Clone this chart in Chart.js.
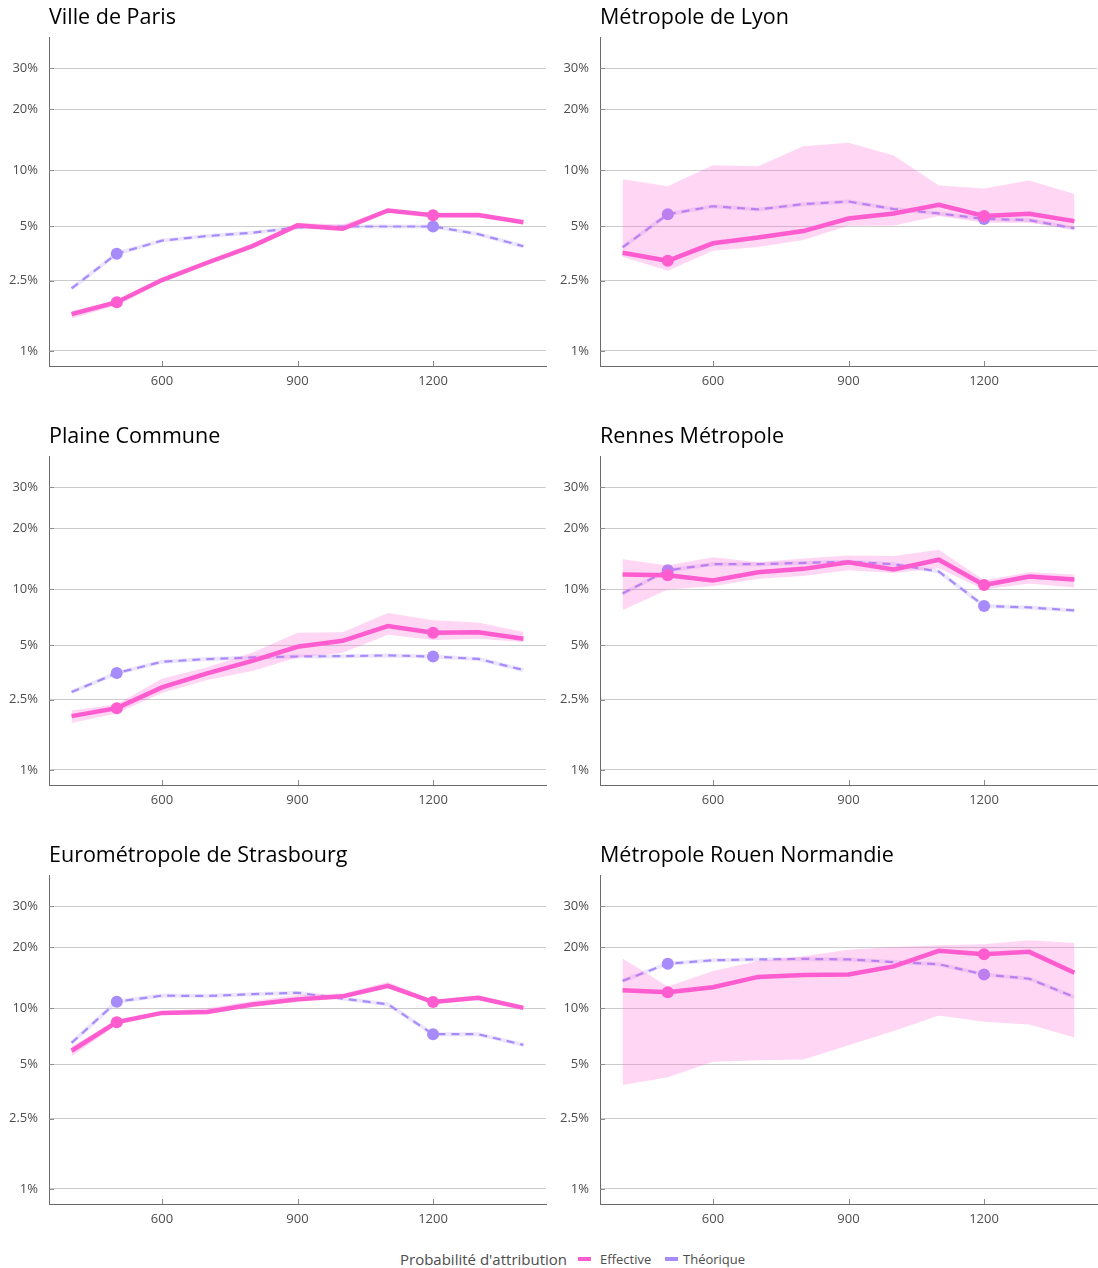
<!DOCTYPE html>
<html lang="fr">
<head>
<meta charset="utf-8">
<title>Probabilité d'attribution par territoire</title>
<script src="https://cdn.jsdelivr.net/npm/chart.js@4.4.1/dist/chart.umd.min.js"></script>
<style>
  html, body { margin: 0; padding: 0; background: #fff; }
  body { width: 1098px; height: 1268px; position: relative; overflow: hidden; font-family: 'Open Sans', sans-serif; }
  .panel { position: absolute; height: 400px; }
  .panel canvas { display: block; }
  .lg { position: absolute; top: 1250px; height: 18px; line-height: 18px; color: #4d4d4d; white-space: nowrap; }
  .lg-title { font-size: 15px; }
  .lg-item { font-size: 13px; }
  .lg-key { position: absolute; top: 1257px; width: 13px; height: 4px; }
</style>
</head>
<body>
<div id="panels"></div>

<div class="lg lg-title" style="left:400px">Probabilité d'attribution</div>
<div class="lg-key" style="left:578px;background:#FF5CCF"></div>
<div class="lg lg-item" style="left:600px">Effective</div>
<div class="lg-key" style="left:665px;background:#A78BFA"></div>
<div class="lg lg-item" style="left:683px">Théorique</div>

<script>
// Revenue thresholds on the horizontal axis
const seuils = [400, 500, 600, 700, 800, 900, 1000, 1100, 1200, 1300, 1400];
const xTicks = [600, 900, 1200];
const yTicks = [0.01, 0.025, 0.05, 0.10, 0.20, 0.30];
const yTickLabels = ['1%', '2.5%', '5%', '10%', '20%', '30%'];
// Thresholds that carry a marker
const marqueurs = [500, 1200];

const territoires = [
  'Ville de Paris', 'Métropole de Lyon', 'Plaine Commune',
  'Rennes Métropole', 'Eurométropole de Strasbourg', 'Métropole Rouen Normandie'
];

// Ville de Paris
const parisEffective = [0.0162, 0.0189, 0.0252, 0.0315, 0.0390, 0.0507, 0.0486, 0.0611, 0.0576, 0.0578, 0.0528];
const parisBasse     = [0.0153, 0.0181, 0.0245, 0.0308, 0.0383, 0.0497, 0.0478, 0.0600, 0.0566, 0.0568, 0.0519];
const parisHaute     = [0.0168, 0.0194, 0.0258, 0.0322, 0.0399, 0.0523, 0.0512, 0.0622, 0.0586, 0.0588, 0.0537];
const parisTheorique = [0.0226, 0.0354, 0.0418, 0.0443, 0.0462, 0.0494, 0.0500, 0.0500, 0.0500, 0.0454, 0.0389];

// Métropole de Lyon
const lyonEffective = [0.0358, 0.0323, 0.0404, 0.0435, 0.0472, 0.0553, 0.0589, 0.0655, 0.0570, 0.0586, 0.0535];
const lyonBasse     = [0.0340, 0.0284, 0.0367, 0.0386, 0.0421, 0.0504, 0.0507, 0.0570, 0.0524, 0.0524, 0.0482];
const lyonHaute     = [0.0897, 0.0824, 0.1060, 0.1048, 0.1324, 0.1380, 0.1190, 0.0831, 0.0802, 0.0883, 0.0750];
const lyonTheorique = [0.0384, 0.0583, 0.0644, 0.0619, 0.0661, 0.0683, 0.0622, 0.0589, 0.0550, 0.0542, 0.0488];

// Plaine Commune
const plaineEffective = [0.0202, 0.0224, 0.0293, 0.0351, 0.0411, 0.0492, 0.0530, 0.0637, 0.0586, 0.0590, 0.0544];
const plaineBasse     = [0.0185, 0.0210, 0.0273, 0.0322, 0.0362, 0.0430, 0.0456, 0.0572, 0.0535, 0.0544, 0.0522];
const plaineHaute     = [0.0217, 0.0236, 0.0327, 0.0379, 0.0456, 0.0586, 0.0590, 0.0750, 0.0685, 0.0667, 0.0592];
const plaineTheorique = [0.0276, 0.0352, 0.0407, 0.0421, 0.0430, 0.0435, 0.0437, 0.0441, 0.0435, 0.0422, 0.0366];

// Rennes Métropole
const rennesEffective = [0.119, 0.118, 0.111, 0.122, 0.127, 0.137, 0.126, 0.141, 0.105, 0.116, 0.112];
const rennesBasse     = [0.0776, 0.0996, 0.1036, 0.113, 0.117, 0.125, 0.121, 0.128, 0.0996, 0.107, 0.102];
const rennesHaute     = [0.142, 0.132, 0.145, 0.137, 0.143, 0.148, 0.147, 0.158, 0.111, 0.122, 0.119];
const rennesTheorique = [0.0949, 0.125, 0.134, 0.134, 0.136, 0.138, 0.134, 0.123, 0.0817, 0.0802, 0.0773];

// Eurométropole de Strasbourg
const strasEffective = [0.0594, 0.0845, 0.0945, 0.0956, 0.1044, 0.111, 0.115, 0.130, 0.1076, 0.113, 0.1003];
const strasBasse     = [0.0555, 0.0815, 0.0925, 0.0935, 0.1010, 0.1075, 0.1120, 0.1260, 0.1050, 0.1100, 0.0980];
const strasHaute     = [0.0625, 0.0870, 0.0965, 0.1000, 0.1090, 0.1170, 0.1185, 0.1360, 0.1100, 0.1160, 0.1025];
const strasTheorique = [0.0655, 0.108, 0.116, 0.1155, 0.118, 0.120, 0.112, 0.1048, 0.0729, 0.0729, 0.0639];

// Métropole Rouen Normandie
const rouenEffective = [0.1235, 0.1207, 0.128, 0.144, 0.147, 0.148, 0.162, 0.192, 0.185, 0.190, 0.151];
const rouenBasse     = [0.0385, 0.0425, 0.0517, 0.0528, 0.0532, 0.0637, 0.0759, 0.0915, 0.0848, 0.0821, 0.0700];
const rouenHaute     = [0.177, 0.129, 0.154, 0.172, 0.181, 0.1945, 0.200, 0.2036, 0.206, 0.2147, 0.2086];
const rouenTheorique = [0.1376, 0.167, 0.1734, 0.175, 0.176, 0.175, 0.170, 0.166, 0.148, 0.141, 0.114];

const effectives = [parisEffective, lyonEffective, plaineEffective, rennesEffective, strasEffective, rouenEffective];
const basses     = [parisBasse, lyonBasse, plaineBasse, rennesBasse, strasBasse, rouenBasse];
const hautes     = [parisHaute, lyonHaute, plaineHaute, rennesHaute, strasHaute, rouenHaute];
const theoriques = [parisTheorique, lyonTheorique, plaineTheorique, rennesTheorique, strasTheorique, rouenTheorique];

const ROSE = '#FF5CCF';
const ROSE_BANDE = 'rgba(255, 92, 207, 0.25)';
const VIOLET = '#A78BFA';
const VIOLET_HALO = 'rgba(167, 139, 250, 0.22)';
const GRIS_TEXTE = '#4d4d4d';
const FONT = "'Open Sans', sans-serif";

// Logit-transformed probability axis
const logit = p => Math.log(p / (1 - p));
const expit = l => 1 / (1 + Math.exp(-l));

class LogitScale extends Chart.LinearScale {
  static id = 'logit';
  static defaults = {};
  buildTicks() {
    return yTicks.map(v => ({ value: v }));
  }
  configure() {
    super.configure();
    this._startValue = logit(this.min);
    this._endValue = logit(this.max);
    this._valueRange = this._endValue - this._startValue;
  }
  getPixelForValue(value) {
    return this.getPixelForDecimal((logit(value) - this._startValue) / this._valueRange);
  }
  getValueForPixel(pixel) {
    return expit(this._startValue + this.getDecimalForPixel(pixel) * this._valueRange);
  }
}
Chart.register(LogitScale);

// Panel title and inward tick marks
const panelDecor = {
  id: 'panelDecor',
  afterDraw(chart, args, opts) {
    const { ctx, chartArea: a } = chart;
    ctx.save();
    ctx.fillStyle = '#000';
    ctx.font = '21.5px ' + FONT;
    ctx.textBaseline = 'middle';
    ctx.textAlign = 'left';
    ctx.fillText(opts.title, a.left, 18);

    ctx.strokeStyle = '#8c8c8c';
    ctx.lineWidth = 1;
    const ys = chart.scales.y, xs = chart.scales.x;
    ys.ticks.forEach(t => {
      const py = Math.round(ys.getPixelForValue(t.value)) + 0.5;
      ctx.beginPath(); ctx.moveTo(a.left, py); ctx.lineTo(a.left + 5, py); ctx.stroke();
    });
    xs.ticks.forEach(t => {
      const px = Math.round(xs.getPixelForValue(t.value)) + 0.5;
      ctx.beginPath(); ctx.moveTo(px, a.bottom); ctx.lineTo(px, a.bottom - 5); ctx.stroke();
    });
    ctx.restore();
  }
};

const points = arr => arr.map((v, i) => ({ x: seuils[i], y: v }));
const markerRadius = ctx => (ctx.raw && marqueurs.includes(ctx.raw.x)) ? 6 : 0;

const panels = document.getElementById('panels');

territoires.forEach((nom, i) => {
  const col = i % 2, row = Math.floor(i / 2);
  const width = col === 0 ? 549 : 547;
  const div = document.createElement('div');
  div.className = 'panel';
  div.style.left = (col === 0 ? 0 : 551) + 'px';
  div.style.top = (row * 419) + 'px';
  div.style.width = width + 'px';
  const canvas = document.createElement('canvas');
  canvas.width = width;
  canvas.height = 400;
  div.appendChild(canvas);
  panels.appendChild(div);

  new Chart(canvas, {
    type: 'line',
    data: {
      datasets: [
        {
          label: 'Effective',
          data: points(effectives[i]),
          borderColor: ROSE,
          borderWidth: 4.5,
          backgroundColor: ROSE,
          pointRadius: markerRadius,
          pointBackgroundColor: ROSE,
          pointBorderWidth: 0,
          fill: false,
          order: 0
        },
        {
          label: 'Effective haute',
          data: points(hautes[i]),
          borderColor: 'rgba(0,0,0,0)',
          borderWidth: 0,
          pointRadius: 0,
          backgroundColor: ROSE_BANDE,
          fill: '+1',
          order: 1
        },
        {
          label: 'Effective basse',
          data: points(basses[i]),
          borderColor: 'rgba(0,0,0,0)',
          borderWidth: 0,
          pointRadius: 0,
          fill: false,
          order: 2
        },
        {
          label: 'Théorique',
          data: points(theoriques[i]),
          borderColor: VIOLET,
          borderWidth: 2.2,
          borderDash: [8, 6],
          backgroundColor: VIOLET,
          pointRadius: markerRadius,
          pointBackgroundColor: VIOLET,
          pointBorderWidth: 0,
          fill: false,
          order: 3
        },
        {
          label: 'Théorique (trace)',
          data: points(theoriques[i]),
          borderColor: VIOLET_HALO,
          borderWidth: 4,
          pointRadius: 0,
          fill: false,
          order: 4
        }
      ]
    },
    options: {
      responsive: false,
      animation: false,
      events: [],
      layout: { padding: { top: 37, left: 0, right: col === 0 ? 3 : 1, bottom: 0 } },
      elements: { line: { tension: 0 } },
      plugins: {
        legend: { display: false },
        tooltip: { enabled: false },
        title: { display: false },
        panelDecor: { title: nom }
      },
      scales: {
        x: {
          type: 'linear',
          min: 350,
          max: 1450,
          afterBuildTicks: s => { s.ticks = xTicks.map(v => ({ value: v })); },
          afterFit: s => { s.height = 34; },
          ticks: {
            autoSkip: false,
            maxRotation: 0,
            padding: 7,
            color: GRIS_TEXTE,
            font: { family: FONT, size: 13 },
            callback: v => String(v)
          },
          grid: { display: false, drawTicks: false },
          border: { display: true, color: '#6b6b6b', width: 1 }
        },
        y: {
          type: 'logit',
          min: 0.0082,
          max: 0.394,
          afterFit: s => { s.width = 49; },
          ticks: {
            autoSkip: false,
            padding: 11,
            color: GRIS_TEXTE,
            font: { family: FONT, size: 13 },
            callback: v => {
              const k = yTicks.findIndex(t => Math.abs(t - v) < 1e-9);
              return k >= 0 ? yTickLabels[k] : '';
            }
          },
          grid: { color: '#cccccc', lineWidth: 1, drawTicks: false },
          border: { display: true, color: '#6b6b6b', width: 1 }
        }
      }
    },
    plugins: [panelDecor]
  });
});
</script>
</body>
</html>
